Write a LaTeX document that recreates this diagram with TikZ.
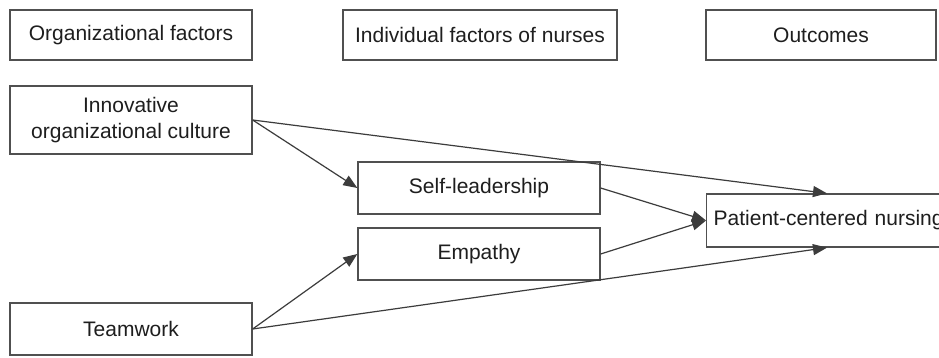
\documentclass[tikz,border=0pt]{standalone}
\usepackage{fontspec}
\setmainfont{Liberation Sans}
\usetikzlibrary{arrows.meta,calc}
\definecolor{boxline}{HTML}{505050}
\definecolor{linkline}{HTML}{3C3C3C}
\definecolor{txt}{HTML}{1E1E1E}
\begin{document}
\begin{tikzpicture}[x=1pt,y=-1pt,
  box/.style={draw=boxline,line width=1.3pt,text=txt,inner sep=0pt,
    font=\fontsize{21}{26}\selectfont,align=center},
  link/.style={draw=linkline,line width=1.2pt,
    -{Triangle[length=14pt,width=11pt]}}]
\useasboundingbox (0,0) rectangle (939,358);
\clip (0,0) rectangle (939,358);
\fill[white] (0,0) rectangle (939,358);

% column headings
\node[box,minimum width=242pt,minimum height=50pt] (hdorg) at (131,35) {Organizational factors};
\node[box,minimum width=274pt,minimum height=50pt] (hdind) at (480,35) {Individual factors of nurses};
\node[box,minimum width=230pt,minimum height=50pt] (hdout) at (821,35) {Outcomes};

% variables
\node[box,minimum width=242pt,minimum height=68pt] (inno) at (131,120) {Innovative\\organizational culture};
\node[box,minimum width=242pt,minimum height=52pt] (team) at (131,329) {Teamwork};
\node[box,minimum width=242pt,minimum height=52pt] (self) at (479,188) {Self-leadership};
\node[box,minimum width=242pt,minimum height=52pt] (emp) at (479,254) {Empathy};
\node[box,anchor=west,text width=260pt,inner xsep=7pt,minimum height=53pt,align=left] (pcn) at (706,220.5) {Patient-centered nursing};

\coordinate (pcntop) at ($(pcn.north west)+(121,0)$);
\coordinate (pcnbot) at ($(pcn.south west)+(121,0)$);

% paths
\draw[link] (inno.east) -- (pcntop);
\draw[link] (inno.east) -- (self.west);
\draw[link] (self.east) -- (pcn.west);
\draw[link] (emp.east) -- (pcn.west);
\draw[link] (team.east) -- (emp.west);
\draw[link] (team.east) -- (pcnbot);
\end{tikzpicture}
\end{document}
